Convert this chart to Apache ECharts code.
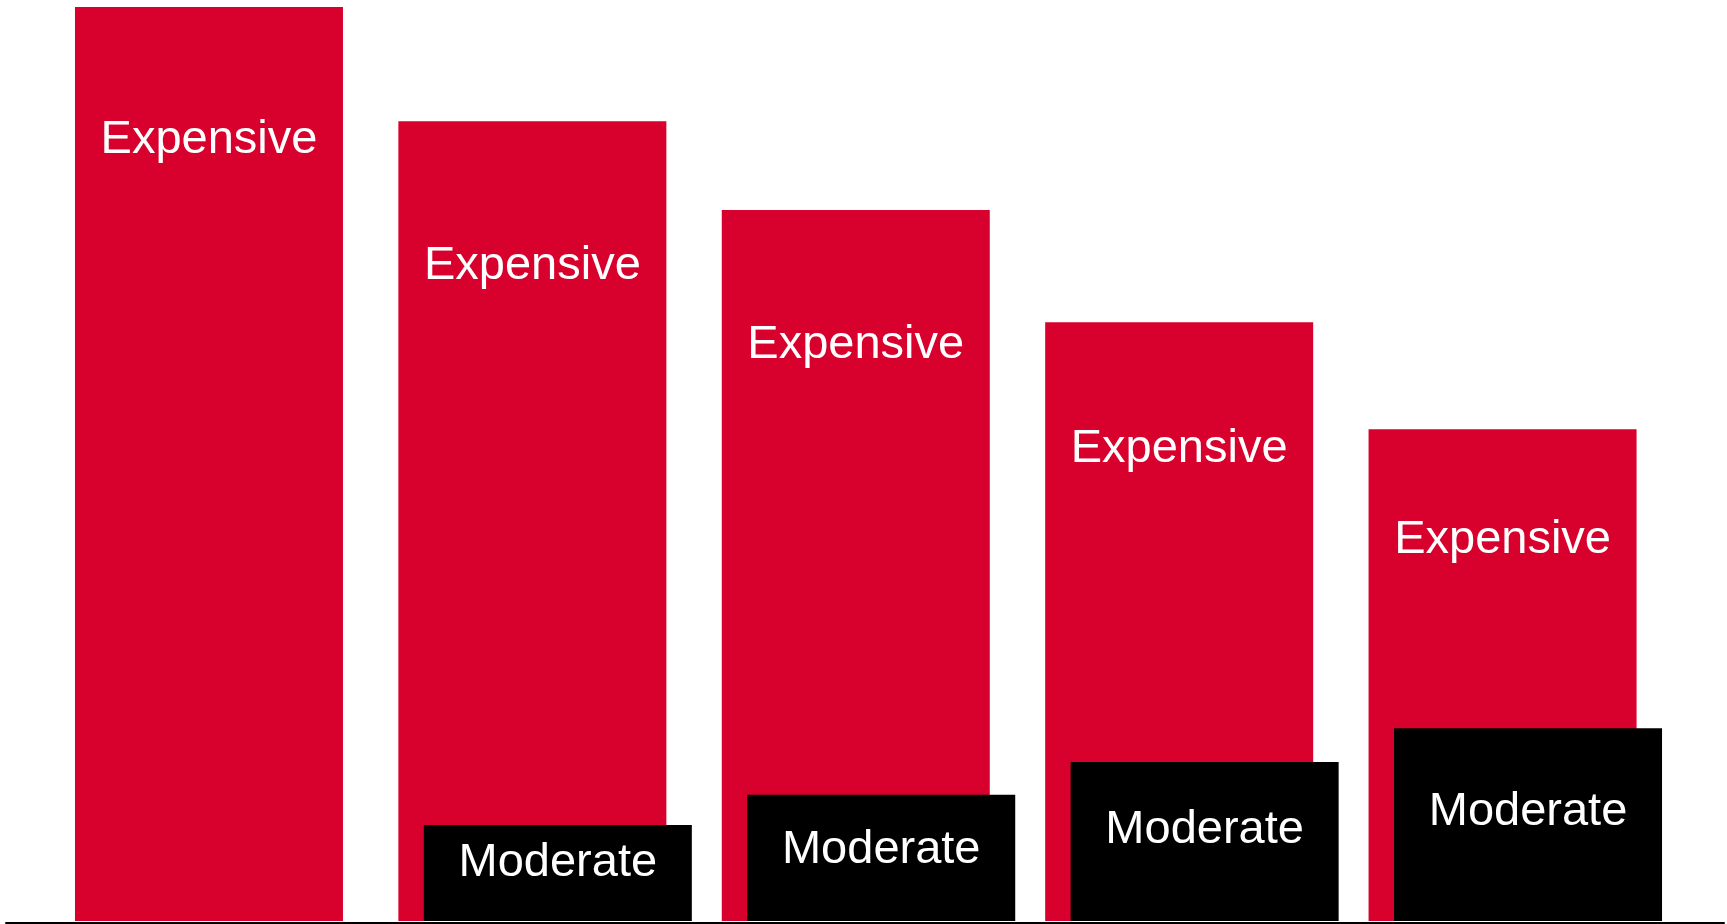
<!DOCTYPE html>
<html>
<head>
    <meta charset="UTF-8">
    <title>Expensive vs Moderate</title>
    <script src="https://cdn.jsdelivr.net/npm/echarts@6/dist/echarts.min.js"></script>
    <style>
        html, body { margin: 0; padding: 0; background: #fff; }
        #main { width: 1727px; height: 924px; }
    </style>
</head>
<body>
<div id="main"></div>
<script type="text/javascript">
    // data
    var categories = ['1', '2', '3', '4', '5'];
    var expensiveValues = [100, 87.5, 77.8, 65.5, 53.8];
    var moderateValues = ['-', 10.5, 13.8, 17.4, 21.1];

    // label offset from the top of each bar (px)
    var expensiveLabelDy = [133, 145, 135, 127, 111];
    var moderateLabelDy = [0, 38, 55, 68, 84];

    var labelFont = {
        color: '#fff',
        fontFamily: '"Liberation Sans", Arial, sans-serif',
        fontSize: 47,
        align: 'center',
        verticalAlign: 'middle'
    };

    function buildItems(values, name, dys) {
        return values.map(function (v, i) {
            if (v === '-') return v;
            return {
                value: v,
                label: Object.assign({
                    show: true,
                    formatter: name,
                    position: ['50%', dys[i]]
                }, labelFont)
            };
        });
    }

    var myChart = echarts.init(document.getElementById('main'));

    var option = {
        animation: false,
        grid: [
            { left: 60, right: 50, top: 7, bottom: 3 },
            // only for the long baseline under the bars
            { left: 6, right: 3, top: 7, bottom: 1 }
        ],
        xAxis: [{
            type: 'category',
            data: categories,
            axisLine: { show: false },
            axisTick: { show: false },
            axisLabel: { show: false }
        }, {
            type: 'category',
            gridIndex: 1,
            data: categories,
            axisLine: { show: true, lineStyle: { color: '#000', width: 2 } },
            axisTick: { show: false },
            axisLabel: { show: false }
        }],
        yAxis: [{
            type: 'value',
            min: 0,
            max: 100,
            show: false,
            splitLine: { show: false }
        }, {
            type: 'value',
            gridIndex: 1,
            show: false,
            splitLine: { show: false }
        }],
        series: [{
            name: 'Expensive',
            type: 'bar',
            barWidth: 268,
            barGap: '-90.5%',
            itemStyle: { color: '#d8002c' },
            data: buildItems(expensiveValues, 'Expensive', expensiveLabelDy)
        }, {
            name: 'Moderate',
            type: 'bar',
            barWidth: 268,
            itemStyle: { color: '#000000' },
            data: buildItems(moderateValues, 'Moderate', moderateLabelDy)
        }]
    };

    myChart.setOption(option);
</script>
</body>
</html>
